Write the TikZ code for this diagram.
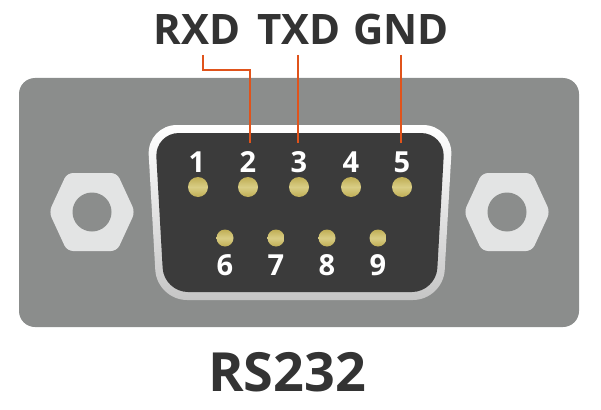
\documentclass[tikz,border=0pt]{standalone}
\usepackage{fontspec}
\setmainfont{Open Sans}
\usetikzlibrary{calc}
\definecolor{plate}{HTML}{8B8D8C}
\definecolor{shell}{HTML}{3B3B3B}
\definecolor{nut}{HTML}{E3E4E4}
\definecolor{wire}{HTML}{E0531B}
\definecolor{ink}{HTML}{333333}
\definecolor{gold}{HTML}{BFAE55}
\definecolor{goldhi}{HTML}{D9CD85}
\begin{document}
\begin{tikzpicture}[x=1pt,y=-1pt,
  signal/.style={font=\bfseries\fontsize{42}{42}\selectfont, text=ink, anchor=base, inner sep=0pt},
  pinnum/.style={font=\bfseries\fontsize{29}{29}\selectfont, text=white, anchor=base, inner sep=0pt},
  title/.style={font=\bfseries\fontsize{54}{54}\selectfont, text=ink, anchor=base, inner sep=0pt},
  wireline/.style={draw=wire, line width=2.4pt},
  pinbig/.style={circle, minimum size=20pt, inner sep=0pt, top color=gold, bottom color=gold, middle color=goldhi},
  pinsmall/.style={circle, minimum size=17pt, inner sep=0pt, top color=gold, bottom color=gold, middle color=goldhi},
  nutshape/.style={fill=nut, rounded corners=6pt},
  hole/.style={fill=plate}
]
\useasboundingbox (0,0) rectangle (601,409);
% plate
\fill[plate, rounded corners=16pt] (19,78) rectangle (579,327);
% nuts
\foreach \cx/\nm in {92/nl, 507/nr}{
  \fill[nutshape] (\cx-43,212) -- (\cx-25,173) -- (\cx+25,173) -- (\cx+43,212) -- (\cx+25,251) -- (\cx-25,251) -- cycle;
  \fill[hole] (\cx,212) circle (19.5);
}
% shell
\shade[top color=white, bottom color=white!55!gray, rounded corners=30pt] (147,125) -- (453,125) -- (443,300) -- (157,300) -- cycle;
\fill[shell, rounded corners=24pt] (155,133) -- (445,133) -- (436,292) -- (164,292) -- cycle;
% pins
\node[pinbig] (p1) at (198,187) {};
\node[pinbig] (p2) at (248,187) {};
\node[pinbig] (p3) at (299,187) {};
\node[pinbig] (p4) at (351,187) {};
\node[pinbig] (p5) at (402,187) {};
\node[pinsmall] (p6) at (225,238) {};
\node[pinsmall] (p7) at (276,238) {};
\node[pinsmall] (p8) at (327,238) {};
\node[pinsmall] (p9) at (378,238) {};
% pin numbers
\node[pinnum] (n1) at (197,172) {1};
\node[pinnum] (n2) at (248,172) {2};
\node[pinnum] (n3) at (299,172) {3};
\node[pinnum] (n4) at (351,172) {4};
\node[pinnum] (n5) at (402,172) {5};
\node[pinnum] (n6) at (225,275) {6};
\node[pinnum] (n7) at (276,275) {7};
\node[pinnum] (n8) at (327,275) {8};
\node[pinnum] (n9) at (378,275) {9};
% signal labels
\node[signal] (rxd) at (197,45) {RXD};
\node[signal] (txd) at (299,45) {TXD};
\node[signal] (gnd) at (401,45) {GND};
% wire ends
\coordinate (rxdw) at (203,55);
\coordinate (txdw) at (298,55);
\coordinate (gndw) at (401,55);
\coordinate (w2) at (250,143);
\coordinate (w3) at (298,143);
\coordinate (w5) at (401,143);
\draw[wireline] (rxdw) |- ($(w2)+(0,-73)$) -- (w2);
\draw[wireline] (txdw) -- (w3);
\draw[wireline] (gndw) -- (w5);
% title
\node[title] (rs) at (287,391) {RS232};
\end{tikzpicture}
\end{document}
